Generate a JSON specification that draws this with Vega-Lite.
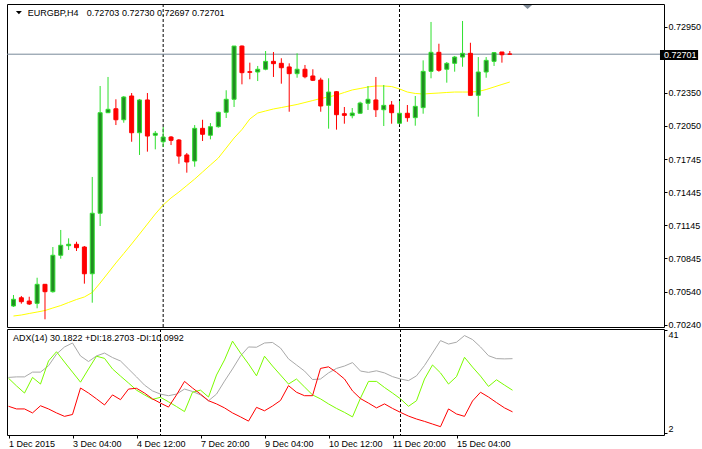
{
  "$schema": "https://vega.github.io/schema/vega-lite/v6.json",
  "padding": {"left": 6, "top": 3, "right": 0, "bottom": 0},
  "bounds": "flush",
  "spacing": 2,
  "background": "white",
  "config": {
    "view": {"stroke": "black", "strokeWidth": 1},
    "axis": {"labelFont": "Liberation Sans", "labelFontSize": 9, "labelColor": "black", "tickColor": "black", "domain": false, "grid": false, "labelOverlap": false, "tickSize": 3},
    "text": {"font": "Liberation Sans", "fontSize": 9}
  },
  "datasets": {
    "bars": [
      {"i":0,"open":0.70412,"high":0.70512,"low":0.70403,"close":0.70473,"ma":0.70321,"adx":23.1,"pdi":22.8,"mdi":12.2},
      {"i":1,"open":0.70487,"high":0.70503,"low":0.70433,"close":0.70451,"ma":0.70330,"adx":23.3,"pdi":19.9,"mdi":11.2},
      {"i":2,"open":0.70457,"high":0.70496,"low":0.70421,"close":0.70430,"ma":0.70344,"adx":23.3,"pdi":17.2,"mdi":11.2},
      {"i":3,"open":0.70436,"high":0.70669,"low":0.70391,"close":0.70609,"ma":0.70357,"adx":25.1,"pdi":23.1,"mdi":9.7},
      {"i":4,"open":0.70609,"high":0.70612,"low":0.70291,"close":0.70542,"ma":0.70371,"adx":25.1,"pdi":20.6,"mdi":12.4},
      {"i":5,"open":0.70542,"high":0.70948,"low":0.70533,"close":0.70873,"ma":0.70394,"adx":27.5,"pdi":29.3,"mdi":11.2},
      {"i":6,"open":0.70873,"high":0.71103,"low":0.70842,"close":0.70964,"ma":0.70416,"adx":31.9,"pdi":32.8,"mdi":9.7},
      {"i":7,"open":0.70960,"high":0.71027,"low":0.70921,"close":0.70973,"ma":0.70444,"adx":34.6,"pdi":28.9,"mdi":8.4},
      {"i":8,"open":0.70973,"high":0.70996,"low":0.70912,"close":0.70942,"ma":0.70471,"adx":36.1,"pdi":25.1,"mdi":9.1},
      {"i":9,"open":0.70948,"high":0.70957,"low":0.70615,"close":0.70705,"ma":0.70494,"adx":31.2,"pdi":21.3,"mdi":19.1},
      {"i":10,"open":0.70705,"high":0.71585,"low":0.70442,"close":0.71255,"ma":0.70535,"adx":29.1,"pdi":26.3,"mdi":17.2},
      {"i":11,"open":0.71255,"high":0.72412,"low":0.71139,"close":0.72169,"ma":0.70621,"adx":31.2,"pdi":31.1,"mdi":15.0},
      {"i":12,"open":0.72169,"high":0.72494,"low":0.72166,"close":0.72200,"ma":0.70712,"adx":32.3,"pdi":30.3,"mdi":12.7},
      {"i":13,"open":0.72205,"high":0.72291,"low":0.72057,"close":0.72105,"ma":0.70803,"adx":30.6,"pdi":26.3,"mdi":16.5},
      {"i":14,"open":0.72105,"high":0.72321,"low":0.72078,"close":0.72312,"ma":0.70889,"adx":29.3,"pdi":23.6,"mdi":14.7},
      {"i":15,"open":0.72321,"high":0.72348,"low":0.71905,"close":0.71987,"ma":0.70976,"adx":26.3,"pdi":21.0,"mdi":18.7},
      {"i":16,"open":0.71987,"high":0.72294,"low":0.71785,"close":0.72285,"ma":0.71066,"adx":23.3,"pdi":18.3,"mdi":19.0},
      {"i":17,"open":0.72285,"high":0.72348,"low":0.71815,"close":0.71957,"ma":0.71157,"adx":20.2,"pdi":16.5,"mdi":17.2},
      {"i":18,"open":0.71964,"high":0.72003,"low":0.71836,"close":0.71982,"ma":0.71248,"adx":18.0,"pdi":14.8,"mdi":15.0},
      {"i":19,"open":0.71905,"high":0.72039,"low":0.71857,"close":0.71948,"ma":0.71330,"adx":16.8,"pdi":15.6,"mdi":13.4},
      {"i":20,"open":0.71948,"high":0.71957,"low":0.71875,"close":0.71918,"ma":0.71394,"adx":16.2,"pdi":13.9,"mdi":11.9},
      {"i":21,"open":0.71921,"high":0.71930,"low":0.71705,"close":0.71775,"ma":0.71448,"adx":16.8,"pdi":12.1,"mdi":16.5},
      {"i":22,"open":0.71785,"high":0.71803,"low":0.71624,"close":0.71721,"ma":0.71507,"adx":18.7,"pdi":10.2,"mdi":21.6},
      {"i":23,"open":0.71730,"high":0.72057,"low":0.71678,"close":0.72027,"ma":0.71566,"adx":17.8,"pdi":17.5,"mdi":19.1},
      {"i":24,"open":0.72027,"high":0.72105,"low":0.71912,"close":0.71973,"ma":0.71630,"adx":16.5,"pdi":18.3,"mdi":16.8},
      {"i":25,"open":0.71964,"high":0.72075,"low":0.71927,"close":0.72042,"ma":0.71694,"adx":14.3,"pdi":15.7,"mdi":14.3},
      {"i":26,"open":0.72042,"high":0.72178,"low":0.72033,"close":0.72173,"ma":0.71757,"adx":16.8,"pdi":24.0,"mdi":13.1},
      {"i":27,"open":0.72173,"high":0.72373,"low":0.72121,"close":0.72291,"ma":0.71848,"adx":21.7,"pdi":29.7,"mdi":11.6},
      {"i":28,"open":0.72291,"high":0.72775,"low":0.72221,"close":0.72775,"ma":0.71939,"adx":26.3,"pdi":36.8,"mdi":9.7},
      {"i":29,"open":0.72775,"high":0.72780,"low":0.72427,"close":0.72533,"ma":0.72016,"adx":31.2,"pdi":32.3,"mdi":8.2},
      {"i":30,"open":0.72542,"high":0.72624,"low":0.72473,"close":0.72536,"ma":0.72112,"adx":34.6,"pdi":28.2,"mdi":6.6},
      {"i":31,"open":0.72539,"high":0.72594,"low":0.72457,"close":0.72564,"ma":0.72166,"adx":34.5,"pdi":23.7,"mdi":11.8},
      {"i":32,"open":0.72564,"high":0.72730,"low":0.72555,"close":0.72636,"ma":0.72185,"adx":36.1,"pdi":31.1,"mdi":10.5},
      {"i":33,"open":0.72636,"high":0.72721,"low":0.72494,"close":0.72615,"ma":0.72203,"adx":36.3,"pdi":27.4,"mdi":12.3},
      {"i":34,"open":0.72618,"high":0.72664,"low":0.72433,"close":0.72578,"ma":0.72216,"adx":34.2,"pdi":24.0,"mdi":14.4},
      {"i":35,"open":0.72585,"high":0.72618,"low":0.72178,"close":0.72524,"ma":0.72230,"adx":30.1,"pdi":20.6,"mdi":20.0},
      {"i":36,"open":0.72524,"high":0.72709,"low":0.72487,"close":0.72564,"ma":0.72244,"adx":27.8,"pdi":22.5,"mdi":17.5},
      {"i":37,"open":0.72564,"high":0.72603,"low":0.72482,"close":0.72496,"ma":0.72262,"adx":25.5,"pdi":19.5,"mdi":16.2},
      {"i":38,"open":0.72503,"high":0.72564,"low":0.72457,"close":0.72464,"ma":0.72280,"adx":22.3,"pdi":16.5,"mdi":16.2},
      {"i":39,"open":0.72466,"high":0.72487,"low":0.72178,"close":0.72230,"ma":0.72298,"adx":22.5,"pdi":15.0,"mdi":26.5},
      {"i":40,"open":0.72236,"high":0.72482,"low":0.72024,"close":0.72357,"ma":0.72312,"adx":24.8,"pdi":13.1,"mdi":27.1},
      {"i":41,"open":0.72360,"high":0.72366,"low":0.72015,"close":0.72151,"ma":0.72330,"adx":26.5,"pdi":11.4,"mdi":25.0},
      {"i":42,"open":0.72160,"high":0.72221,"low":0.72069,"close":0.72145,"ma":0.72353,"adx":27.4,"pdi":9.9,"mdi":22.5},
      {"i":43,"open":0.72142,"high":0.72212,"low":0.72118,"close":0.72166,"ma":0.72376,"adx":28.7,"pdi":8.2,"mdi":18.0},
      {"i":44,"open":0.72164,"high":0.72269,"low":0.72160,"close":0.72257,"ma":0.72389,"adx":25.5,"pdi":15.3,"mdi":15.1},
      {"i":45,"open":0.72255,"high":0.72412,"low":0.72194,"close":0.72291,"ma":0.72403,"adx":25.0,"pdi":21.6,"mdi":13.4},
      {"i":46,"open":0.72285,"high":0.72494,"low":0.72130,"close":0.72196,"ma":0.72412,"adx":25.6,"pdi":21.6,"mdi":11.6},
      {"i":47,"open":0.72196,"high":0.72421,"low":0.72048,"close":0.72236,"ma":0.72412,"adx":24.8,"pdi":19.3,"mdi":13.1},
      {"i":48,"open":0.72239,"high":0.72275,"low":0.72069,"close":0.72169,"ma":0.72407,"adx":23.4,"pdi":17.2,"mdi":11.4},
      {"i":49,"open":0.72073,"high":0.72275,"low":0.72064,"close":0.72164,"ma":0.72385,"adx":22.5,"pdi":15.0,"mdi":9.9},
      {"i":50,"open":0.72164,"high":0.72239,"low":0.72087,"close":0.72124,"ma":0.72357,"adx":21.9,"pdi":12.2,"mdi":8.5},
      {"i":51,"open":0.72124,"high":0.72321,"low":0.72051,"close":0.72227,"ma":0.72344,"adx":23.7,"pdi":14.3,"mdi":7.4},
      {"i":52,"open":0.72215,"high":0.72645,"low":0.72160,"close":0.72545,"ma":0.72339,"adx":27.6,"pdi":22.5,"mdi":6.5},
      {"i":53,"open":0.72545,"high":0.72994,"low":0.72482,"close":0.72718,"ma":0.72344,"adx":32.3,"pdi":27.8,"mdi":5.5},
      {"i":54,"open":0.72718,"high":0.72796,"low":0.72542,"close":0.72555,"ma":0.72348,"adx":37.0,"pdi":24.8,"mdi":4.5},
      {"i":55,"open":0.72564,"high":0.72630,"low":0.72442,"close":0.72618,"ma":0.72353,"adx":35.7,"pdi":20.6,"mdi":11.2},
      {"i":56,"open":0.72618,"high":0.72685,"low":0.72542,"close":0.72675,"ma":0.72357,"adx":36.4,"pdi":23.4,"mdi":9.3},
      {"i":57,"open":0.72675,"high":0.73003,"low":0.72587,"close":0.72709,"ma":0.72357,"adx":38.9,"pdi":30.7,"mdi":8.4},
      {"i":58,"open":0.72709,"high":0.72805,"low":0.72327,"close":0.72327,"ma":0.72357,"adx":37.4,"pdi":27.0,"mdi":14.2},
      {"i":59,"open":0.72327,"high":0.72675,"low":0.72133,"close":0.72539,"ma":0.72362,"adx":34.6,"pdi":23.6,"mdi":17.5},
      {"i":60,"open":0.72539,"high":0.72675,"low":0.72487,"close":0.72645,"ma":0.72380,"adx":31.3,"pdi":19.7,"mdi":15.7},
      {"i":61,"open":0.72636,"high":0.72721,"low":0.72594,"close":0.72715,"ma":0.72403,"adx":30.2,"pdi":22.2,"mdi":13.6},
      {"i":62,"open":0.72721,"high":0.72721,"low":0.72624,"close":0.72696,"ma":0.72426,"adx":30.1,"pdi":20.2,"mdi":11.6},
      {"i":63,"open":0.72703,"high":0.72730,"low":0.72697,"close":0.72701,"ma":0.72448,"adx":30.18,"pdi":18.27,"mdi":10.10}
    ],
    "separators": [{"i": 19}, {"i": 49}]
  },
  "vconcat": [
    {
      "width": 657,
      "height": 323,
      "data": {"name": "bars"},
      "layer": [
        {
          "data": {"name": "separators"},
          "mark": {"type": "rule", "color": "black", "strokeWidth": 1, "strokeDash": [3, 2]},
          "encoding": {
            "x": {"field": "i", "type": "quantitative", "title": null, "scale": {"domain": [-0.1875, 81.9375], "nice": false, "zero": false}, "axis": null}
          }
        },
        {
          "data": {"values": [{"p": 0.72701}]},
          "mark": {"type": "rule", "color": "#778899", "strokeWidth": 1},
          "encoding": {"y": {"field": "p", "type": "quantitative", "title": null}}
        },
        {
          "mark": {"type": "line", "color": "#ffff00", "strokeWidth": 1},
          "encoding": {
            "x": {"field": "i", "type": "quantitative", "title": null},
            "y": {"field": "ma", "type": "quantitative", "title": null,
              "scale": {"domain": [0.70221, 0.731573], "nice": false, "zero": false},
              "axis": {"orient": "right", "values": [0.7295, 0.7235, 0.7205, 0.71745, 0.71445, 0.71145, 0.70845, 0.7054, 0.7024], "format": ".5f", "tickSize": 3, "labelPadding": 1, "labelAlign": "left", "labelBaseline": "middle", "labelOverlap": false, "labelBound": false, "title": null}
            }
          }
        },
        {
          "mark": {"type": "rule", "strokeWidth": 1, "clip": true},
          "encoding": {
            "x": {"field": "i", "type": "quantitative", "title": null},
            "y": {"field": "low", "type": "quantitative", "title": null},
            "y2": {"field": "high"},
            "color": {"condition": {"test": "datum.close >= datum.open", "value": "#2fe02f"}, "value": "#ff0000"}
          }
        },
        {
          "mark": {"type": "bar", "size": 4, "strokeWidth": 1, "clip": true, "orient": "vertical"},
          "encoding": {
            "x": {"field": "i", "type": "quantitative", "title": null},
            "y": {"field": "open", "type": "quantitative", "title": null},
            "y2": {"field": "close"},
            "fill": {"condition": {"test": "datum.close >= datum.open", "value": "#228b22"}, "value": "#ff0000"},
            "stroke": {"condition": {"test": "datum.close >= datum.open", "value": "#2fe02f"}, "value": "#ff0000"}
          }
        },
        {
          "data": {"values": [{"s": "menu"}]},
          "mark": {"type": "point", "shape": "M-1,-0.5L1,-0.5L0,0.6Z", "filled": true, "size": 36, "color": "black", "opacity": 1},
          "encoding": {
            "x": {"datum": 0.6875, "type": "quantitative"},
            "y": {"datum": 0.7308, "type": "quantitative"}
          }
        },
        {
          "data": {"values": [{"t": "EURGBP,H4"}]},
          "mark": {"type": "text", "align": "left", "baseline": "middle", "color": "black", "fontSize": 9},
          "encoding": {
            "x": {"datum": 1.8125, "type": "quantitative"},
            "y": {"datum": 0.730755, "type": "quantitative"},
            "text": {"field": "t"}
          }
        },
        {
          "data": {"values": [{"t": "0.72703 0.72730 0.72697 0.72701"}]},
          "mark": {"type": "text", "align": "left", "baseline": "middle", "color": "black", "fontSize": 9},
          "encoding": {
            "x": {"datum": 9.3125, "type": "quantitative"},
            "y": {"datum": 0.730755, "type": "quantitative"},
            "text": {"field": "t"}
          }
        },
        {
          "data": {"values": [{"s": "shift"}]},
          "mark": {"type": "point", "shape": "M-1,-0.45L1,-0.45L0,0.45Z", "filled": true, "size": 81, "color": "#7f8a96", "opacity": 1},
          "encoding": {
            "x": {"datum": 65.25, "type": "quantitative"},
            "y": {"datum": 0.7313, "type": "quantitative"}
          }
        },
        {
          "data": {"values": [{"p": 0.72701}]},
          "mark": {"type": "rect", "color": "black", "clip": false},
          "encoding": {
            "x": {"datum": 82.0625, "type": "quantitative"},
            "x2": {"datum": 86.9},
            "y": {"datum": 0.727391, "type": "quantitative"},
            "y2": {"datum": 0.726482}
          }
        },
        {
          "data": {"values": [{"t": "0.72701"}]},
          "mark": {"type": "text", "align": "left", "baseline": "middle", "color": "white", "fontSize": 9, "clip": false},
          "encoding": {
            "x": {"datum": 82.5625, "type": "quantitative"},
            "y": {"datum": 0.72695, "type": "quantitative"},
            "text": {"field": "t"}
          }
        }
      ]
    },
    {
      "width": 657,
      "height": 106,
      "data": {"name": "bars"},
      "layer": [
        {
          "data": {"name": "separators"},
          "mark": {"type": "rule", "color": "black", "strokeWidth": 1, "strokeDash": [3, 2]},
          "encoding": {
            "x": {"field": "i", "type": "quantitative", "title": null, "scale": {"domain": [-0.1875, 81.9375], "nice": false, "zero": false}}
          }
        },
        {
          "mark": {"type": "line", "color": "#a9a9a9", "strokeWidth": 1},
          "encoding": {
            "x": {"field": "i", "type": "quantitative", "title": null,
              "axis": {"orient": "bottom", "values": [0, 8, 16, 24, 32, 40, 48, 56], "labelExpr": "['1 Dec 2015','3 Dec 04:00','4 Dec 12:00','7 Dec 20:00','9 Dec 04:00','10 Dec 12:00','11 Dec 20:00','15 Dec 04:00'][round(datum.value/8)]", "tickSize": 3, "labelPadding": 1, "labelAlign": "left", "labelBaseline": "top", "labelFlush": false, "labelOverlap": false, "title": null}
            },
            "y": {"field": "adx", "type": "quantitative", "title": null,
              "scale": {"domain": [1.36, 41.38], "nice": false, "zero": false},
              "axis": {"orient": "right", "values": [2, 41], "format": "d", "tickSize": 3, "labelPadding": 1, "labelAlign": "left", "labelOverlap": false, "labelBaseline": {"condition": {"test": "datum.value > 20", "value": "top"}, "value": "bottom"}, "title": null}
            }
          }
        },
        {
          "mark": {"type": "line", "color": "#7cfc00", "strokeWidth": 1},
          "encoding": {
            "x": {"field": "i", "type": "quantitative", "title": null},
            "y": {"field": "pdi", "type": "quantitative", "title": null}
          }
        },
        {
          "mark": {"type": "line", "color": "#ff0000", "strokeWidth": 1},
          "encoding": {
            "x": {"field": "i", "type": "quantitative", "title": null},
            "y": {"field": "mdi", "type": "quantitative", "title": null}
          }
        },
        {
          "data": {"values": [{"t": "ADX(14) 30.1822 +DI:18.2703 -DI:10.0992"}]},
          "mark": {"type": "text", "align": "left", "baseline": "middle", "color": "black", "fontSize": 9},
          "encoding": {
            "x": {"datum": 0.5625, "type": "quantitative"},
            "y": {"datum": 37.87, "type": "quantitative"},
            "text": {"field": "t"}
          }
        }
      ]
    }
  ]
}
